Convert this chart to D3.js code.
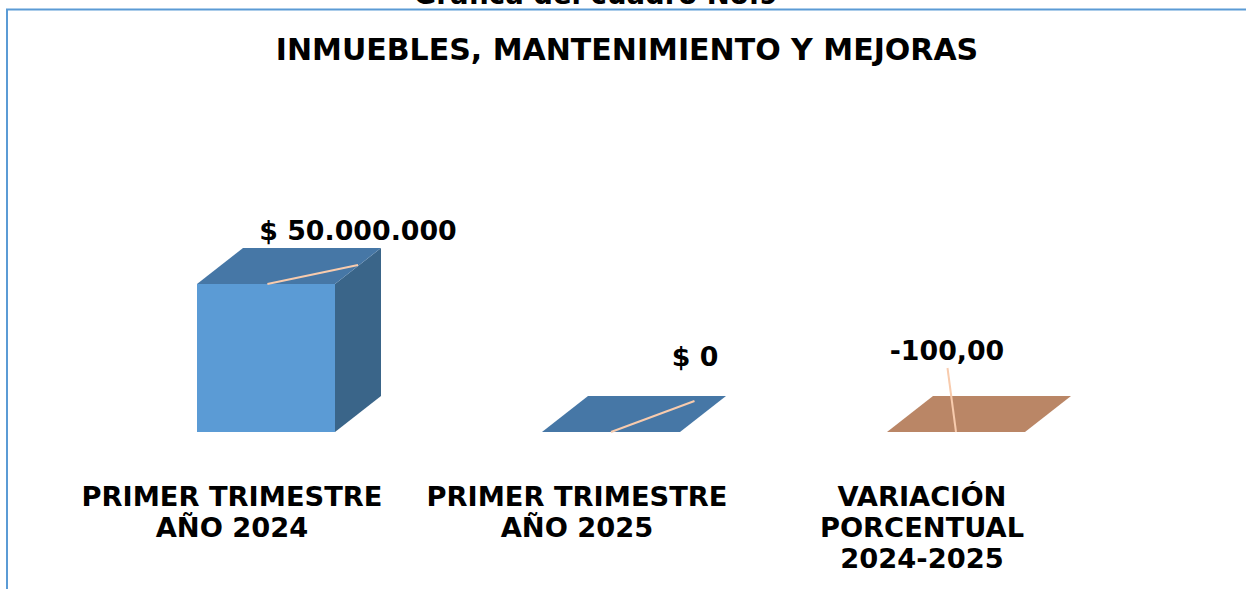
<!DOCTYPE html>
<html>
<head>
<meta charset="utf-8">
<script src="https://cdn.jsdelivr.net/npm/d3@7"></script>
<style>
  html, body { margin: 0; padding: 0; background: #fff; }
  svg text { font-family: "DejaVu Sans", Verdana, sans-serif; font-weight: bold; fill: #000; }
</style>
</head>
<body>
<svg id="chart" width="1246" height="589"></svg>
<script>
// datos del cuadro
const categories = ["PRIMER TRIMESTRE|AÑO 2024", "PRIMER TRIMESTRE|AÑO 2025", "VARIACIÓN|PORCENTUAL|2024-2025"];
const values = [50000000, 0, -100];
const valueLabels = ["$ 50.000.000", "$ 0", "-100,00"];
const kinds = ["money", "money", "pct"];

const svg = d3.select("svg#chart");
const width = +svg.attr("width");
const height = +svg.attr("height");

const colors = {
  money: { front: "#5b9bd5", top: "#4677a6", side: "#3a6589" },
  pct:   { front: "#c48a68", top: "#ba8666", side: "#9e6f55" }
};
const leaderColor = "#f8cbad";

// marco
svg.append("line").attr("x1", 6).attr("x2", width).attr("y1", 9.5).attr("y2", 9.5)
  .attr("stroke", "#5b9bd5").attr("stroke-width", 2);
svg.append("line").attr("x1", 7).attr("x2", 7).attr("y1", 9).attr("y2", height)
  .attr("stroke", "#5b9bd5").attr("stroke-width", 2);

// titulo cortado arriba
svg.append("text").attr("x", 596).attr("y", 4).attr("text-anchor", "middle")
  .style("font-size", "27.5px").text("Gráfica del cuadro No.9");

svg.append("text").attr("x", 627).attr("y", 59.5).attr("text-anchor", "middle")
  .style("font-size", "30px").text("INMUEBLES, MANTENIMIENTO Y MEJORAS");

const x = d3.scaleBand().domain(categories).range([59.5, 1094.5]);
const y = d3.scaleLinear().domain([0, 60000000]).range([432, 254.4]);

const barW = 138, depthX = 46, depthY = -36, shift = 34;

const bars = svg.append("g").selectAll("g")
  .data(categories.map((c, i) => ({ cat: c, value: values[i], label: valueLabels[i], kind: kinds[i] })))
  .enter().append("g");

bars.each(function(d) {
  const g = d3.select(this);
  const x0 = x(d.cat) + x.bandwidth() / 2 + shift - barW / 2;
  const x1 = x0 + barW;
  const y0 = y(0);
  const yt = d.kind === "money" ? y(Math.max(0, d.value)) : y0;
  const c = colors[d.kind];
  const h = y0 - yt;
  if (h > 0) {
    g.append("rect").attr("x", x0).attr("y", yt).attr("width", barW).attr("height", h).attr("fill", c.front);
    g.append("path").attr("fill", c.side)
      .attr("d", `M${x1},${yt} L${x1 + depthX},${yt + depthY} L${x1 + depthX},${y0 + depthY} L${x1},${y0} Z`);
  }
  g.append("path").attr("fill", c.top)
    .attr("d", `M${x0},${yt} L${x0 + depthX},${yt + depthY} L${x1 + depthX},${yt + depthY} L${x1},${yt} Z`);
  d.x0 = x0; d.yt = yt;
});

// etiquetas de datos con linea guia
const labelPos = [
  { lx: 358, ly: 240, from: 0.51, to: [358, 265] },
  { lx: 695, ly: 366, from: 0.5, to: [694.5, 401] },
  { lx: 947, ly: 360, from: 0.5, to: [947.5, 368] }
];
bars.each(function(d, i) {
  const g = d3.select(this);
  const p = labelPos[i];
  const fx = d.x0 + barW * p.from;
  g.append("line").attr("x1", fx).attr("y1", d.yt).attr("x2", p.to[0]).attr("y2", p.to[1])
    .attr("stroke", leaderColor).attr("stroke-width", 2);
  g.append("text").attr("x", p.lx).attr("y", p.ly).attr("text-anchor", "middle")
    .style("font-size", "26.8px").text(d.label);
});

// etiquetas de categoria
const axis = svg.append("g");
categories.forEach(c => {
  const lines = c.split("|");
  const t = axis.append("text").attr("text-anchor", "middle").style("font-size", "27.3px");
  lines.forEach((ln, j) => {
    t.append("tspan").attr("x", x(c) + x.bandwidth() / 2).attr("y", 506 + j * 31).text(ln);
  });
});
</script>
</body>
</html>
